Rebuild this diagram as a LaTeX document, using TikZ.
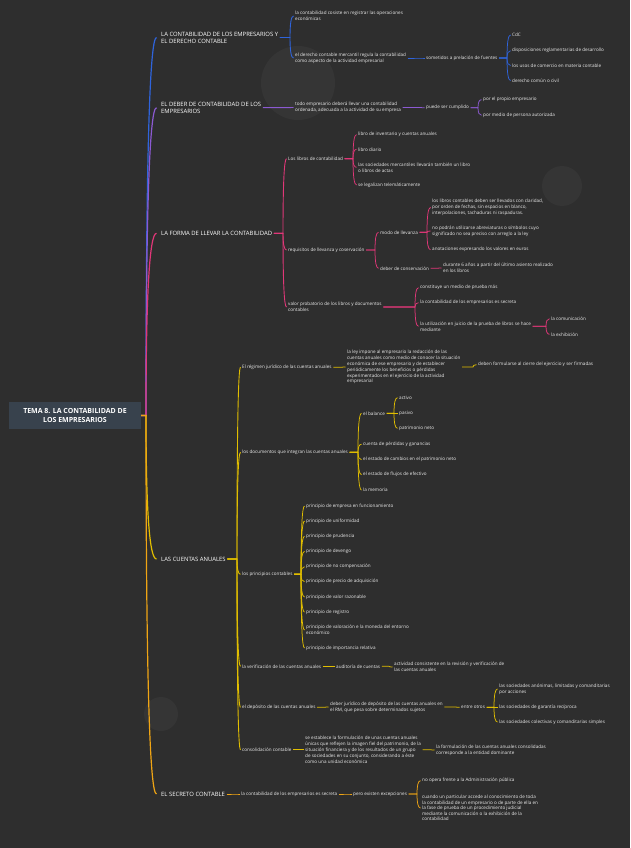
\documentclass[tikz,border=0pt]{standalone}
\usepackage{fontspec}
\setmainfont{Open Sans}
\usetikzlibrary{calc}
\definecolor{bg}{HTML}{2E2E2E}
\definecolor{circ}{HTML}{353535}
\definecolor{rootfill}{HTML}{38424D}
\definecolor{txt}{HTML}{EDEDED}
\definecolor{cb}{HTML}{2F64DC}
\definecolor{cp}{HTML}{8C5AD2}
\definecolor{ck}{HTML}{E13778}
\definecolor{cy}{HTML}{E1BE00}
\definecolor{co}{HTML}{F0A514}
\newcommand\kids[3]{%
  \foreach \ch in {#3}{%
    \draw[#1] let \p1=(#2.east), \p2=(\ch.west) in
      (\x1+1.5pt,\y1) -- (\x2-5pt,\y1)
      .. controls (\x2-5pt,{\y1+0.667*(\y2-\y1)}) and (\x2-3.8pt,\y2) .. (\x2-1.5pt,\y2);
  }}
\begin{document}
\begin{tikzpicture}[x=1pt,y=-1pt,
  t/.style={anchor=west, inner sep=0pt, align=left, text=txt, font=\fontsize{4.6}{6}\selectfont},
  topic/.style={anchor=west, inner sep=0pt, align=left, text=white, font=\fontsize{5.9}{7.2}\selectfont},
  l2/.style={line width=0.9pt},
  l3/.style={line width=0.75pt}]
\useasboundingbox (0,0) rectangle (630,848);
\fill[bg] (0,0) rectangle (630,848);
\fill[circ] (298,83) circle (37);
\fill[circ] (562,186) circle (20);
\fill[circ] (161,714) circle (17);

\node[fill=rootfill, text=white, font=\bfseries\fontsize{7}{9.5}\selectfont, align=center,
  minimum width=132pt, minimum height=27pt, inner sep=0pt] (root) at (75,415.5)
  {TEMA 8. LA CONTABILIDAD DE\\LOS EMPRESARIOS};

% topics
\node[topic] (A) at (161,37.5) {LA CONTABILIDAD DE LOS EMPRESARIOS Y\\EL DERECHO CONTABLE};
\node[topic] (B) at (161,107.7) {EL DEBER DE CONTABILIDAD DE LOS\\EMPRESARIOS};
\node[topic] (C) at (161,233.3) {LA FORMA DE LLEVAR LA CONTABILIDAD};
\node[topic] (D) at (161,559) {LAS CUENTAS ANUALES};
\node[topic] (E) at (161,794) {EL SECRETO CONTABLE};

% A
\node[t] (A1) at (295,16) {la contabilidad cosiste en registrar las operaciones\\económicas};
\node[t] (A2) at (295,58) {el derecho contable mercantil regula la contabilidad\\como aspecto de la actividad empresarial};
\node[t] (A21) at (426,58) {sometidos a prelación de fuentes};
\node[t] (A211) at (512,35) {CdC};
\node[t] (A212) at (512,50.7) {disposiciones reglamentarias de desarrollo};
\node[t] (A213) at (512,65.5) {los usos de comercio en materia contable};
\node[t] (A214) at (512,80.5) {derecho común o civil};

% B
\node[t] (B1) at (295,107.5) {todo empresario deberá llevar una contabilidad\\ordenada, adecuada a la actividad de su empresa};
\node[t] (B11) at (426,107.7) {puede ser cumplido};
\node[t] (B111) at (483,99.7) {por el propio empresario};
\node[t] (B112) at (483,115.3) {por medio de persona autorizada};

% C
\node[t] (C1) at (288,158.7) {Los libros de contabilidad};
\node[t] (C11) at (358,134.7) {libro de inventario y cuentas anuales};
\node[t] (C12) at (358,149.3) {libro diario};
\node[t] (C13) at (358,167.3) {las sociedades mercantiles llevarán también un libro\\o libros de actas};
\node[t] (C14) at (358,185) {se legalizan telemáticamente};
\node[t] (C2) at (288,250) {requisitos de llevanza y coservación};
\node[t] (C21) at (380,232.3) {modo de llevanza};
\node[t] (C211) at (432,207.5) {los libros contables deben ser llevados con claridad,\\por orden de fechas, sin espacios en blanco,\\interpolaciones, tachaduras ni raspaduras.};
\node[t] (C212) at (432,231) {no podrán utilizarse abreviaturas o símbolos cuyo\\significado no sea preciso con arreglo a la ley};
\node[t] (C213) at (432,249.7) {anotaciones expresando los valores en euros};
\node[t] (C22) at (380,268.3) {deber de conservación};
\node[t] (C221) at (443,268) {durante 6 años a partir del último asiento realizado\\en los libros};
\node[t] (C3) at (288,307) {valor probatorio de los libros y documentos\\contables};
\node[t] (C31) at (420,287.7) {constituye un medio de prueba más};
\node[t] (C32) at (420,302.7) {la contabilidad de los empresarios es secreta};
\node[t] (C33) at (420,326.3) {la utilización en juicio de la prueba de libros se hace\\mediante};
\node[t] (C331) at (551,318.7) {la comunicación};
\node[t] (C332) at (551,334.3) {la exhibición};

% D
\node[t] (D1) at (242,367.3) {El régimen jurídico de las cuentas anuales};
\node[t, font=\fontsize{4.6}{5.9}\selectfont] (D11) at (347,367) {la ley impone al empresario la redacción de las\\cuentas anuales como medio de conocer la situación\\económica de ese empresario y de establecer\\periódicamente los beneficios o pérdidas\\experimentados en el ejercicio de la actividad\\empresarial};
\node[t] (D111) at (478,364.7) {deben formularse al cierre del ejercicio y ser firmadas};
\node[t] (D2) at (242,452.3) {los documentos que integran las cuentas anuales};
\node[t] (D21) at (363,413.3) {el balance};
\node[t] (D211) at (399,397.7) {activo};
\node[t] (D212) at (399,413.3) {pasivo};
\node[t] (D213) at (399,428.3) {patrimonio neto};
\node[t] (D22) at (363,444.3) {cuenta de pérdidas y ganancias};
\node[t] (D23) at (363,459.7) {el estado de cambios en el patrimonio neto};
\node[t] (D24) at (363,474.7) {el estado de flujos de efectivo};
\node[t] (D25) at (363,490) {la memoria};
\node[t] (D3) at (242,574.3) {los principios contables};
\node[t] (D31) at (306,506) {principio de empresa en funcionamiento};
\node[t] (D32) at (306,521) {principio de uniformidad};
\node[t] (D33) at (306,536.3) {principio de prudencia};
\node[t] (D34) at (306,551.3) {principio de devengo};
\node[t] (D35) at (306,566.7) {principio de no compensación};
\node[t] (D36) at (306,581.7) {principio de precio de adquisición};
\node[t] (D37) at (306,597) {principio de valor razonable};
\node[t] (D38) at (306,612) {principio de registro};
\node[t] (D39) at (306,630) {principio de valoración e la moneda del entorno\\económico};
\node[t] (D310) at (306,648) {principio de importancia relativa};
\node[t] (D4) at (242,666.3) {la verificación de las cuentas anuales};
\node[t] (D41) at (336,666.3) {auditoría de cuentas};
\node[t] (D411) at (394,667) {actividad consistente en la revisión y verificación de\\las cuentas anuales};
\node[t] (D5) at (242,707.3) {el depósito de las cuentas anuales};
\node[t] (D51) at (330,707) {deber jurídico de depósito de las cuentas anuales en\\el RM, que pesa sobre determinados sujetos};
\node[t] (D511) at (461,707.3) {entre otros};
\node[t] (D5111) at (499,689) {las sociedades anónimas, limitadas y comanditarias\\por acciones};
\node[t] (D5112) at (499,707.3) {las sociedades de garantía recíproca};
\node[t] (D5113) at (499,722) {las sociedades colectivas y comanditarias simples};
\node[t] (D6) at (242,749.7) {consolidación contable};
\node[t] (D61) at (305,749.7) {se establece la formulación de unas cuentas anuales\\únicas que reflejen la imagen fiel del patrimonio, de la\\situación financiera y de los resultados de un grupo\\de sociedades en su conjunto, considerando a éste\\como una unidad económica};
\node[t] (D611) at (436,750) {la formulación de las cuentas anuales consolidadas\\corresponde a la entidad dominante};

% E
\node[t] (E1) at (241,794) {la contabilidad de los empresarios es secreta};
\node[t] (E11) at (353,794) {pero existen excepciones};
\node[t] (E111) at (422,780.7) {no opera frente a la Administración pública};
\node[t, font=\fontsize{4.6}{5.6}\selectfont] (E112) at (422,808) {cuando un particular accede al conocimiento de toda\\la contabilidad de un empresario o de parte de ella en\\la fase de prueba de un procedimiento judicial\\mediante la comunicación o la exhibición de la\\contabilidad};

% trunk
\foreach \tp/\col in {A/cb,B/cp,C/ck,D/cy,E/co}{%
  \draw[\col, line width=1.2pt] let \p1=(root.east), \p2=(\tp.west) in
    (\x1,\y1) -- (146pt,\y1)
    .. controls (146pt,{\y1+0.667*(\y2-\y1)}) and (\x2-11.5pt,\y2) .. (\x2-4.5pt,\y2);
}

% connectors
\kids{cb,l2}{A}{A1,A2}
\kids{cb,l3}{A2}{A21}
\kids{cb,l3}{A21}{A211,A212,A213,A214}
\kids{cp,l2}{B}{B1}
\kids{cp,l3}{B1}{B11}
\kids{cp,l3}{B11}{B111,B112}
\kids{ck,l2}{C}{C1,C2,C3}
\kids{ck,l3}{C1}{C11,C12,C13,C14}
\kids{ck,l3}{C2}{C21,C22}
\kids{ck,l3}{C21}{C211,C212,C213}
\kids{ck,l3}{C22}{C221}
\kids{ck,l3}{C3}{C31,C32,C33}
\kids{ck,l3}{C33}{C331,C332}
\kids{cy,l2}{D}{D1,D2,D3,D4,D5,D6}
\kids{cy,l3}{D1}{D11}
\kids{cy,l3}{D11}{D111}
\kids{cy,l3}{D2}{D21,D22,D23,D24,D25}
\kids{cy,l3}{D21}{D211,D212,D213}
\kids{cy,l3}{D3}{D31,D32,D33,D34,D35,D36,D37,D38,D39,D310}
\kids{cy,l3}{D4}{D41}
\kids{cy,l3}{D41}{D411}
\kids{cy,l3}{D5}{D51}
\kids{cy,l3}{D51}{D511}
\kids{cy,l3}{D511}{D5111,D5112,D5113}
\kids{cy,l3}{D6}{D61}
\kids{cy,l3}{D61}{D611}
\kids{co,l2}{E}{E1}
\kids{co,l3}{E1}{E11}
\kids{co,l3}{E11}{E111,E112}
\end{tikzpicture}
\end{document}
